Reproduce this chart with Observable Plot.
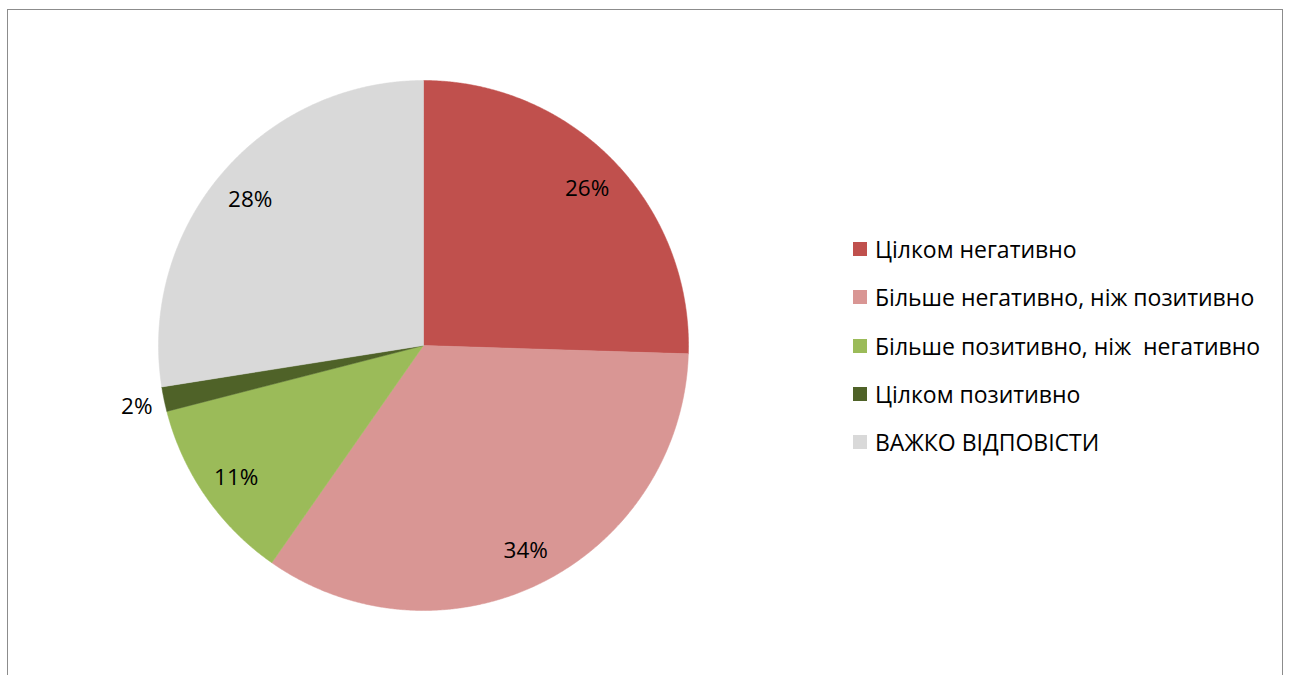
<!DOCTYPE html>
<html>
<head>
<meta charset="utf-8">
<script src="https://cdn.jsdelivr.net/npm/d3@7"></script>
<script src="https://cdn.jsdelivr.net/npm/@observablehq/plot@0.6"></script>
<style>
  html, body { margin: 0; padding: 0; background: #fff; }
  #wrap { position: relative; width: 1290px; height: 675px; overflow: hidden; font-family: "Open Sans", Lato, sans-serif; }
  #frame { position: absolute; left: 7px; top: 9px; width: 1276px; height: 700px; border: 1px solid #8c8c8c; box-sizing: border-box; }
  #chart { position: absolute; left: 0; top: 0; }
  #legend { position: absolute; left: 853px; top: 225px; }
  .item { height: 48.3px; display: flex; align-items: center; font-size: 23px; color: #000; white-space: pre; }
  .sw { width: 14px; height: 14px; margin-right: 8px; flex: none; }
</style>
</head>
<body>
<div id="wrap">
  <div id="frame"></div>
  <div id="chart"></div>
  <div id="legend"></div>
</div>
<script>
const categories = [
  "Цілком негативно",
  "Більше негативно, ніж позитивно",
  "Більше позитивно, ніж  негативно",
  "Цілком позитивно",
  "ВАЖКО ВІДПОВІСТИ"
];
const values = [25.5, 34.2, 11.3, 1.5, 27.5];
const colors = ["#C0504D", "#D99694", "#9BBB59", "#4F6228", "#D9D9D9"];

const total = d3.sum(values);
const arcs = d3.pie().sort(null).value(d => d)(values);

// slice outlines in unit coordinates (clockwise from top)
const slicePts = [];
arcs.forEach((a, i) => {
  const cat = categories[i];
  slicePts.push({cat, x: 0, y: 0});
  const n = Math.max(4, Math.ceil((a.endAngle - a.startAngle) / 0.005));
  for (let k = 0; k <= n; k++) {
    const t = a.startAngle + (a.endAngle - a.startAngle) * k / n;
    slicePts.push({cat, x: Math.sin(t), y: Math.cos(t)});
  }
  slicePts.push({cat, x: 0, y: 0});
});

const labels = arcs.map((a, i) => {
  const m = (a.startAngle + a.endAngle) / 2;
  const r = values[i] / total < 0.05 ? 1.105 : 0.86;
  return {x: Math.sin(m) * r, y: Math.cos(m) * r, text: Math.round(values[i] / total * 100) + "%"};
});

const cx = 423, cy = 345, R = 265;
const plot = Plot.plot({
  width: 1290,
  height: 675,
  margin: 0,
  x: {domain: [-1, 1], range: [cx - R, cx + R], axis: null},
  y: {domain: [-1, 1], range: [cy + R, cy - R], axis: null},
  color: {domain: categories, range: colors},
  style: {background: "transparent", fontFamily: "'Open Sans', Lato, sans-serif"},
  marks: [
    Plot.line(slicePts, {x: "x", y: "y", z: "cat", fill: "cat", stroke: "cat", strokeWidth: 0.5, curve: "linear"}),
    Plot.text(labels, {x: "x", y: "y", text: "text", fontSize: 22.5, fill: "#000", dy: 2})
  ]
});
document.getElementById("chart").appendChild(plot);

const legend = document.getElementById("legend");
categories.forEach((c, i) => {
  const row = document.createElement("div");
  row.className = "item";
  const sw = document.createElement("span");
  sw.className = "sw";
  sw.style.background = colors[i];
  const tx = document.createElement("span");
  tx.textContent = c;
  row.appendChild(sw);
  row.appendChild(tx);
  legend.appendChild(row);
});
</script>
</body>
</html>
